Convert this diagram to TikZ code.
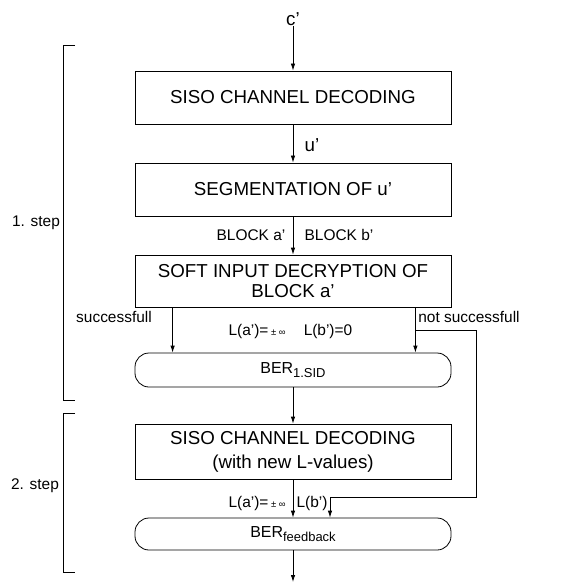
\documentclass[tikz,border=0pt]{standalone}
\usepackage{fontspec}
\setmainfont{Liberation Sans}
\usetikzlibrary{arrows.meta}
\newcommand{\boxfont}{\fontsize{18.8}{20}\selectfont}
\newcommand{\lblfont}{\fontsize{15.5}{18}\selectfont}
\newcommand{\tinyinf}{{\fontsize{9.5}{10}\selectfont ± ∞}}
\newcommand{\bername}[1]{BER\raisebox{-0.3em}{\fontsize{13}{14}\selectfont #1}}

\begin{document}
\begin{tikzpicture}[x=1bp, y=-1bp, line width=0.8bp,
  box/.style={draw, minimum width=316bp, inner sep=0pt, align=center, font=\boxfont},
  roundbox/.style={box, rounded corners=14bp, font=\fontsize{16}{18}\selectfont},
  lbl/.style={inner sep=0pt, font=\lblfont},
  arr/.style={-{Latex[length=7bp, width=4.5bp]}}]

\useasboundingbox (0, 0) rectangle (566, 583);

% main chain
\node [inner sep=0pt, font=\boxfont] (cin) at (293, 19) {c’};
\node [box, minimum height=53bp] (siso1) at (293, 97.5) {SISO CHANNEL DECODING};
\node [box, minimum height=53bp] (seg) at (293, 189.5) {SEGMENTATION OF u’};
\node [box, minimum height=52bp] (sid) at (293, 281) {SOFT INPUT DECRYPTION OF\\BLOCK a’};
\node [roundbox, minimum height=34bp] (ber1) at (293, 370) {\bername{1.SID}};
\node [box, minimum height=55bp] (siso2) at (293, 451.5) {SISO CHANNEL DECODING\\[4bp](with new L-values)};
\node [roundbox, minimum height=32bp] (berfb) at (293, 534) {\bername{feedback}};
\coordinate (out) at (293, 582);

\draw [arr] (cin) -- (siso1);
\draw [arr] (siso1) -- (seg);
\draw [arr] (seg) -- (sid);
\draw [arr] ([xshift=38bp]sid.south west) -- ([xshift=38bp]ber1.north west);
\draw [arr] ([xshift=-36bp]sid.south east) -- ([xshift=-36bp]ber1.north east);
\draw [arr] (ber1) -- (siso2);
\draw [arr] (siso2) -- (berfb);
\draw [arr] (berfb) -- (out);

% feedback of L(b')
\coordinate (split) at (415, 330);
\coordinate (fbturn) at (476, 497);
\draw [arr] (split) -| (fbturn) -| ([xshift=37bp]berfb.north);

% labels
\node [lbl, font=\boxfont] at (312, 145) {u’};
\node [lbl] at (251, 235) {BLOCK a’};
\node [lbl] at (339, 235) {BLOCK b’};
\node [lbl] at (114, 317) {successfull};
\node [lbl, anchor=west] at (418, 317) {not successfull};
\node [lbl, anchor=east] at (286, 332) {L(a’)=\,\tinyinf};
\node [lbl] at (328, 332) {L(b’)=0};
\node [lbl, anchor=east] at (286, 503) {L(a’)=\,\tinyinf};
\node [lbl] at (312, 503) {L(b’)};

% steps
\draw (75, 45) -- (63, 45) -- (63, 400) -- (75, 400);
\draw (75, 413) -- (63, 413) -- (63, 572) -- (75, 572);
\node [lbl] at (36, 223) {1. step};
\node [lbl] at (35, 486) {2. step};

\end{tikzpicture}
\end{document}
